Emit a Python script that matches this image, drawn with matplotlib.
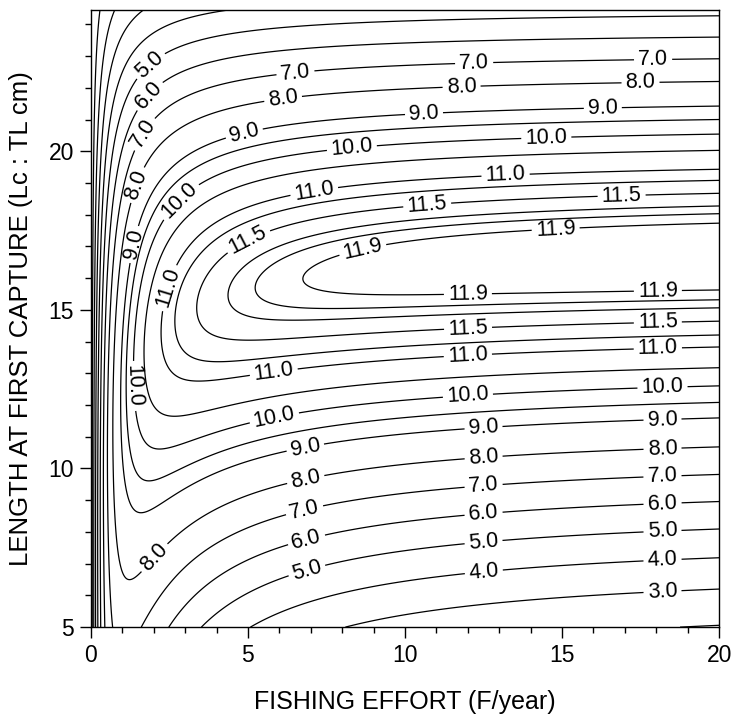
import numpy as np
import matplotlib
matplotlib.use("Agg")
import matplotlib.pyplot as plt
from matplotlib.ticker import MultipleLocator

plt.rcParams["font.family"] = ["Liberation Sans", "DejaVu Sans"]

# Beverton-Holt yield-per-recruit parameters (fitted to points)
LINF = 29.5      # cm
K = 0.64914      # 1/year
M = 1.41581      # 1/year
C = 410.5        # yield scale

label_levels = [3, 4, 5, 6, 7, 8, 9, 10, 11, 11.5, 11.9]
plain_levels = [1, 2, 9.5, 10.5, 11.25, 11.7, 11.8]

# where the isopleth labels sit (F, Lc)
label_pos = [
    (1.8, 22.8), (1.8, 21.8), (1.6, 20.6), (1.3, 19.0), (1.2, 17.1), (2.77, 18.5),
    (2.45, 15.7), (5.0, 17.2), (8.7, 16.7),
    (6.5, 22.6), (6.1, 21.8), (4.85, 20.7), (8.3, 20.2), (7.1, 18.8),
    (12.2, 22.83), (11.8, 22.1), (10.6, 21.3), (14.5, 20.4), (13.2, 19.3), (10.7, 18.4),
    (14.8, 17.5), (12.0, 15.7), (12.0, 14.6),
    (17.9, 22.83), (17.5, 22.1), (16.3, 21.3), (16.9, 18.5), (18.05, 15.7), (18.05, 14.6),
    (18.05, 13.8), (18.2, 12.5), (18.2, 11.5), (18.2, 10.6), (18.2, 9.7), (18.2, 8.9),
    (18.2, 8.0), (18.2, 7.1), (18.2, 6.1),
    (12.0, 13.6), (12.0, 12.36), (12.5, 11.3), (12.5, 10.4), (12.5, 9.5), (12.5, 8.6),
    (12.5, 7.7), (12.5, 6.85),
    (5.8, 13.2), (5.8, 11.8), (6.8, 10.8), (6.8, 9.84), (6.75, 8.9), (6.8, 8.0),
    (6.8, 7.05), (1.9, 7.3), (1.35, 12.6),
]


def ypr(F, Lc):
    s = np.clip(1 - Lc / LINF, 1e-9, None)
    tot = 0
    for n, u in enumerate([1, -3, 3, -1]):
        tot = tot + u * s ** n / (F + M + n * K)
    return C * F * s ** (M / K) * tot


f = np.linspace(0, 20, 801)
lc = np.linspace(5, 24.45, 500)
FF, LL = np.meshgrid(f, lc)
Z = ypr(FF, LL)

fig = plt.figure(figsize=(7.33, 7.2), dpi=100)
ax = fig.add_axes([0.124, 0.129, 0.857, 0.857])
ax.contour(FF, LL, Z, levels=plain_levels, colors="black", linewidths=0.9)
cs = ax.contour(FF, LL, Z, levels=label_levels, colors="black", linewidths=0.9)
ax.clabel(cs, inline=True, fmt="%.1f", fontsize=15.5, manual=label_pos, inline_spacing=4)

ax.set_xlim(0, 20)
ax.set_ylim(5, 24.45)
ax.xaxis.set_major_locator(MultipleLocator(5))
ax.yaxis.set_major_locator(MultipleLocator(5))
ax.xaxis.set_minor_locator(MultipleLocator(1))
ax.yaxis.set_minor_locator(MultipleLocator(1))
ax.tick_params(which="major", direction="out", length=8, width=1, labelsize=16.5, pad=4)
ax.tick_params(which="minor", direction="out", length=4.5, width=1)
for sp in ax.spines.values():
    sp.set_linewidth(1)

ax.set_xlabel("FISHING EFFORT (F/year)", fontsize=18, labelpad=17)
ax.set_ylabel("LENGTH AT FIRST CAPTURE (Lc : TL cm)", fontsize=18.5, labelpad=11)
fig.savefig("out.png", dpi=100)
